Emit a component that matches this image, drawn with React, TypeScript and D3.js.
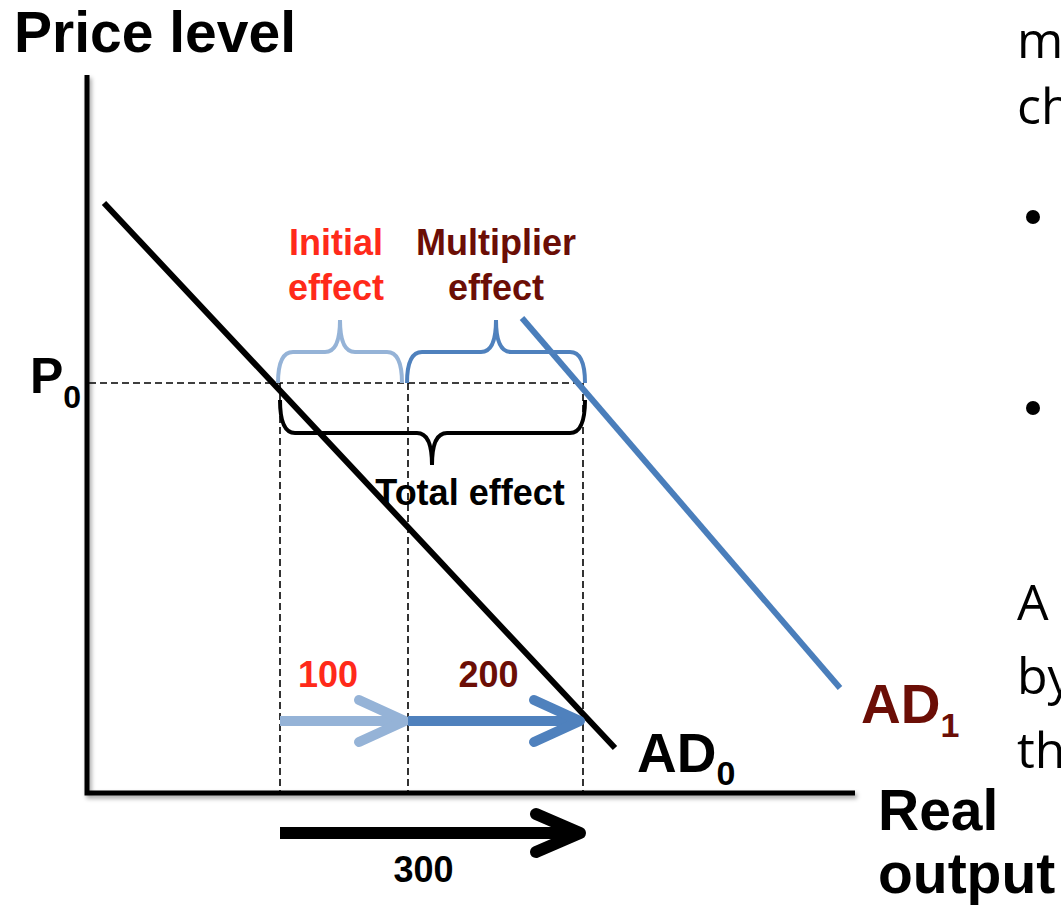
import React from 'react';
import * as d3 from 'd3';

// diagram units: quantity (real output) and price level
const ad0 = [
  { q: 19, p: 592 },
  { q: 530, p: 47 },
];
const ad1 = [
  { q: 437, p: 477 },
  { q: 755, p: 107 },
];
const p0 = 412;
const qMarks = [195, 323, 498]; // Y0, Y0 + initial, Y0 + total
const effectLabels = ['100', '200', '300'];
const rightText = ['m', 'ch', 'A', 'by', 'th'];

const W = 1061;
const H = 910;

const x = d3.scaleLinear().domain([0, 770]).range([85, 855]);
const y = d3.scaleLinear().domain([0, 720]).range([795, 75]);

const line = d3
  .line<{ q: number; p: number }>()
  .x(d => x(d.q))
  .y(d => y(d.p));

const font = '"Liberation Sans", Arial, sans-serif';
const lightBlue = '#95b3d7';
const blue = '#4f81bd';
const red = '#ff2a1a';
const darkRed = '#6b0e06';

// curly brace between x1 and x2; legs end at yEnd, bar at yBar, tip at (tx, yTip)
function brace(x1: number, x2: number, tx: number, yEnd: number, yBar: number, yTip: number) {
  const r = 15;
  return [
    `M${x1},${yEnd}`,
    `Q${x1},${yBar} ${x1 + r},${yBar}`,
    `L${tx - r},${yBar}`,
    `Q${tx},${yBar} ${tx},${yTip}`,
    `Q${tx},${yBar} ${tx + r},${yBar}`,
    `L${x2 - r},${yBar}`,
    `Q${x2},${yBar} ${x2},${yEnd}`,
  ].join(' ');
}

function arrow(x1: number, x2: number, yy: number, head = 46, spread = 21) {
  const tip = x2 - 3;
  return {
    shaft: `M${x1},${yy} L${tip - 2},${yy}`,
    head: `M${tip - head},${yy - spread} L${tip},${yy} L${tip - head},${yy + spread}`,
  };
}

const App: React.FC = () => {
  const [xa, xb, xc] = qMarks.map(q => x(q));
  const yP = y(p0);
  const xAxisY = y(0) - 2;
  const arrowY = 721;
  const a1 = arrow(xa, xb, arrowY);
  const a2 = arrow(xb, xc, arrowY);
  const a3 = arrow(xa, xc, 833, 44, 19);

  return (
    <div style={{ position: 'absolute', left: 0, top: 0 }}>
      <svg width={W} height={H} style={{ display: 'block', background: '#fff' }}>
        <defs>
          <filter id="shadow" x="-5%" y="-5%" width="110%" height="110%">
            <feDropShadow dx="2" dy="3" stdDeviation="2" floodColor="#000" floodOpacity="0.35" />
          </filter>
        </defs>

        {/* title */}
        <text x={14} y={52} fontFamily={font} fontWeight="bold" fontSize={57} fill="#000">
          Price level
        </text>

        {/* dashed guides */}
        <g stroke="#000" strokeWidth={1.6} strokeDasharray="7,4" fill="none">
          <line x1={x(0) + 4} x2={xc} y1={yP} y2={yP} />
          {qMarks.map(q => (
            <line key={q} x1={x(q)} x2={x(q)} y1={yP} y2={xAxisY} />
          ))}
        </g>

        {/* axes */}
        <g stroke="#000" strokeWidth={5} fill="none" filter="url(#shadow)">
          <path d={`M${x(2)},${y(720)} L${x(2)},${xAxisY} L${x(770)},${xAxisY}`} />
        </g>

        {/* AD curves */}
        <path d={line(ad0) ?? ''} stroke="#000" strokeWidth={6} fill="none" />
        <path d={line(ad1) ?? ''} stroke="#4a7ebb" strokeWidth={6} fill="none" />

        {/* braces */}
        <path d={brace(xa - 2, xb - 6, 340, yP, yP - 31, yP - 63)} stroke={lightBlue} strokeWidth={4} fill="none" />
        <path d={brace(xb - 1, xc + 2, 496, yP, yP - 31, yP - 63)} stroke={blue} strokeWidth={4} fill="none" />
        <path d={brace(xa, xc + 2, 432, yP + 17, yP + 50, yP + 82)} stroke="#000" strokeWidth={4} fill="none" />

        {/* effect labels */}
        <g fontFamily={font} fontWeight="bold" fontSize={36} textAnchor="middle">
          <text x={336} y={255} fill={red}>Initial</text>
          <text x={336} y={300} fill={red}>effect</text>
          <text x={496} y={255} fill={darkRed}>Multiplier</text>
          <text x={496} y={300} fill={darkRed}>effect</text>
          <text x={470} y={505} fill="#000">Total effect</text>
          <text x={(xa + xb) / 2 - 16} y={687} fill={red}>{effectLabels[0]}</text>
          <text x={(xb + xc) / 2 - 7} y={687} fill={darkRed}>{effectLabels[1]}</text>
          <text x={(xa + xc) / 2 - 8} y={882} fill="#000">{effectLabels[2]}</text>
        </g>

        {/* arrows */}
        <g fill="none" strokeLinecap="round" strokeLinejoin="round">
          <path d={a1.shaft} stroke={lightBlue} strokeWidth={10} strokeLinecap="butt" />
          <path d={a1.head} stroke={lightBlue} strokeWidth={10} />
          <path d={a2.shaft} stroke={blue} strokeWidth={10} strokeLinecap="butt" />
          <path d={a2.head} stroke={blue} strokeWidth={10} />
          <path d={a3.shaft} stroke="#000" strokeWidth={12} strokeLinecap="butt" />
          <path d={a3.head} stroke="#000" strokeWidth={12} />
        </g>

        {/* axis labels */}
        <g fontFamily={font} fontWeight="bold" fill="#000">
          <text x={30} y={393} fontSize={50}>
            P<tspan fontSize={32} dy={15}>0</tspan>
          </text>
          <text x={637} y={772} fontSize={55}>
            AD<tspan fontSize={34} dy={13}>0</tspan>
          </text>
          <text x={861} y={723} fontSize={55} fill={darkRed}>
            AD<tspan fontSize={34} dy={14}>1</tspan>
          </text>
          <text x={878} y={830} fontSize={57}>Real</text>
          <text x={878} y={893} fontSize={57}>output</text>
        </g>

        {/* clipped slide text on the right */}
        <g fontFamily='"Open Sans", sans-serif' fontSize={50} fill="#000">
          <text x={1017} y={58}>{rightText[0]}</text>
          <text x={1017} y={124}>{rightText[1]}</text>
          <circle cx={1033} cy={217} r={7} />
          <circle cx={1033} cy={408} r={7} />
          <text x={1017} y={620}>{rightText[2]}</text>
          <text x={1017} y={694}>{rightText[3]}</text>
          <text x={1017} y={768}>{rightText[4]}</text>
        </g>
      </svg>
    </div>
  );
};

export default App;
